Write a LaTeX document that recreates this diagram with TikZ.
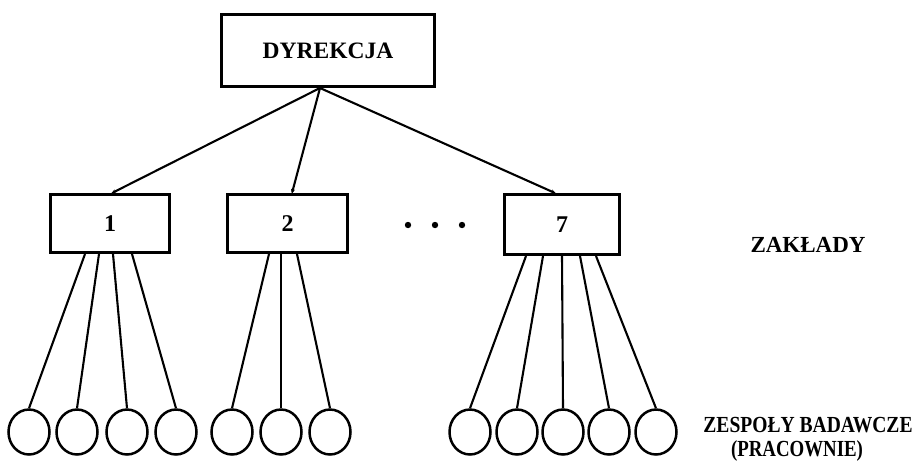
\documentclass[tikz,border=0pt]{standalone}
\usepackage{fontspec}
\setmainfont{Liberation Serif}
\usetikzlibrary{shapes.geometric,arrows.meta}
\begin{document}
\begin{tikzpicture}[x=1pt,y=-1pt,
  unitbox/.style={draw, line width=3pt, rectangle, inner sep=0pt},
  team/.style={draw, line width=2.5pt, ellipse, inner sep=0pt,
    minimum width=41pt, minimum height=45pt},
  link/.style={line width=2.1pt},
  toplink/.style={line width=2.1pt, -{Stealth[length=5pt,width=4pt]}, shorten >=-1pt},
  label/.style={font=\bfseries\fontsize{23}{25}\selectfont, inner sep=0pt}]
\useasboundingbox (0,0) rectangle (915,467);

% management and departments
\node[unitbox, minimum width=213pt, minimum height=72pt,
  font=\bfseries\fontsize{23.5}{26}\selectfont] (dyr) at (328,50.5) {DYREKCJA};
\node[unitbox, minimum width=119pt, minimum height=58pt,
  font=\bfseries\fontsize{24}{26}\selectfont] (b1) at (110,223.5) {1};
\node[unitbox, minimum width=120pt, minimum height=58pt,
  font=\bfseries\fontsize{24}{26}\selectfont] (b2) at (287.5,223.5) {2};
\node[unitbox, minimum width=115pt, minimum height=60pt,
  font=\bfseries\fontsize{24}{26}\selectfont] (b7) at (562,224.5) {7};

% ellipsis between departments
\foreach \x in {408,435,462} \fill (\x,225) circle (3.2pt);

% research teams
\foreach \n/\x in {11/29,12/77,13/127,14/176,21/232,22/281,23/330,71/470,72/517,73/563,74/609,75/656}
  \node[team] (c\n) at (\x,432) {};

% management to departments
\draw[toplink] ([xshift=-8pt]dyr.south) -- ([xshift=2pt]b1.north);
\draw[toplink] ([xshift=-8pt]dyr.south) -- ([xshift=4.5pt]b2.north);
\draw[toplink] ([xshift=-8pt]dyr.south) -- ([xshift=-7pt]b7.north);

% departments to teams
\draw[link] ([xshift=-25pt]b1.south) -- (c11.north);
\draw[link] ([xshift=-11pt]b1.south) -- (c12.north);
\draw[link] ([xshift=3pt]b1.south) -- (c13.north);
\draw[link] ([xshift=22pt]b1.south) -- (c14.north);
\draw[link] ([xshift=-18.5pt]b2.south) -- (c21.north);
\draw[link] ([xshift=-6.5pt]b2.south) -- (c22.north);
\draw[link] ([xshift=9.5pt]b2.south) -- (c23.north);
\draw[link] ([xshift=-36pt]b7.south) -- (c71.north);
\draw[link] ([xshift=-19pt]b7.south) -- (c72.north);
\draw[link] ([xshift=0pt]b7.south) -- (c73.north);
\draw[link] ([xshift=18pt]b7.south) -- (c74.north);
\draw[link] ([xshift=34pt]b7.south) -- (c75.north);

% level labels
\node[label] (zak) at (808,245) {ZAKŁADY};
\node[label] (zes) at (808,425.5) {\scalebox{0.85}[1]{ZESPOŁY BADAWCZE}};
\node[label] (pra) at (797,451) {\scalebox{0.82}[1]{(PRACOWNIE)}};
\end{tikzpicture}
\end{document}
